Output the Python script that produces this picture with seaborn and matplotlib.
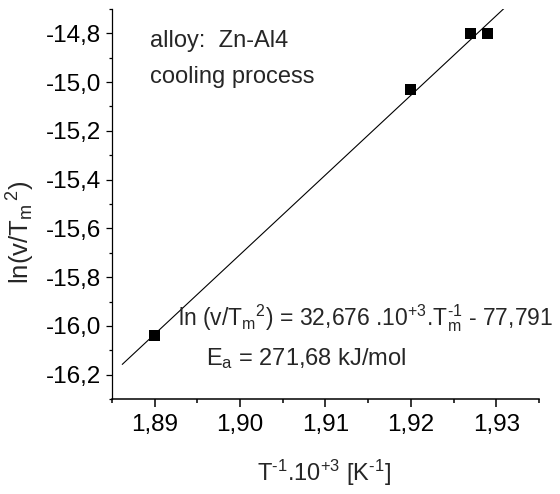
import matplotlib
matplotlib.use("Agg")
import matplotlib.pyplot as plt
import seaborn as sns
from matplotlib.ticker import MultipleLocator

# data
inv_T = [1.890, 1.920, 1.927, 1.929]
ln_v = [-16.04, -15.03, -14.80, -14.80]
# linear fit endpoints
fit_x = [1.8862, 1.9320]
fit_y = [-16.158, -14.662]
x_ticks = [1.89, 1.90, 1.91, 1.92, 1.93]
y_ticks = [-16.2, -16.0, -15.8, -15.6, -15.4, -15.2, -15.0, -14.8]

sns.set_style("ticks")
plt.rcParams['font.family'] = ['Liberation Sans', 'DejaVu Sans']
plt.rcParams['mathtext.default'] = 'regular'

fig = plt.figure(figsize=(5.6, 4.94), dpi=100)
ax = fig.add_axes([0.2, 0.1923, 0.7625, 0.7895])

sns.lineplot(x=fit_x, y=fit_y, color='black', lw=0.8, ax=ax)
sns.scatterplot(x=inv_T, y=ln_v, marker='s', s=63, color='black', edgecolor='none', ax=ax, zorder=3)

ax.set_xlim(1.885, 1.935)
ax.set_ylim(-16.3, -14.7)
ax.set_xticks(x_ticks)
ax.set_yticks(y_ticks)
ax.xaxis.set_minor_locator(MultipleLocator(0.005))
ax.yaxis.set_minor_locator(MultipleLocator(0.1))
ax.set_xticklabels([f"{v:.2f}".replace('.', ',') for v in x_ticks])
ax.set_yticklabels([f"{v:.1f}".replace('.', ',') for v in y_ticks])
ax.tick_params(which='both', direction='out', labelsize=17.5, colors='black')
ax.tick_params(axis='x', which='major', length=6, width=1.1, pad=5)
ax.tick_params(axis='x', which='minor', length=3, width=1.1)
ax.tick_params(axis='y', which='major', length=4, width=0.9, pad=4)
ax.tick_params(axis='y', which='minor', length=2.2, width=0.9)
ax.spines['left'].set_linewidth(0.9)
ax.spines['bottom'].set_linewidth(1.1)
for s in ['left', 'bottom']:
    ax.spines[s].set_color('black')
sns.despine(ax=ax)

# short hyphens in the superscripts, like the original
ax.set_xlabel('T$^{\u2010 1}$.10$^{+3}$ [K$^{\u2010 1}$]', fontsize=17)
ax.xaxis.set_label_coords(0.497, -0.152)
ax.set_ylabel('ln(v/T$_{m}$$^{\\,2}$)', fontsize=18.5)
ax.yaxis.set_label_coords(-0.175, 0.427)

ax.text(0.088, 0.918, 'alloy:  Zn-Al4', transform=ax.transAxes, fontsize=17, va='center')
ax.text(0.088, 0.825, 'cooling process', transform=ax.transAxes, fontsize=17, va='center')
ax.text(0.155, 0.207, 'ln (v/T$_{m}$$^{2}$) = 32,676 .10$^{+3}$.T$_{m}^{\u2010 1}$ - 77,791',
        transform=ax.transAxes, fontsize=16.5, va='center')
ax.text(0.22, 0.105, 'E$_{a}$ = 271,68 kJ/mol', transform=ax.transAxes, fontsize=17, va='center')

fig.savefig("out.png", dpi=100)
